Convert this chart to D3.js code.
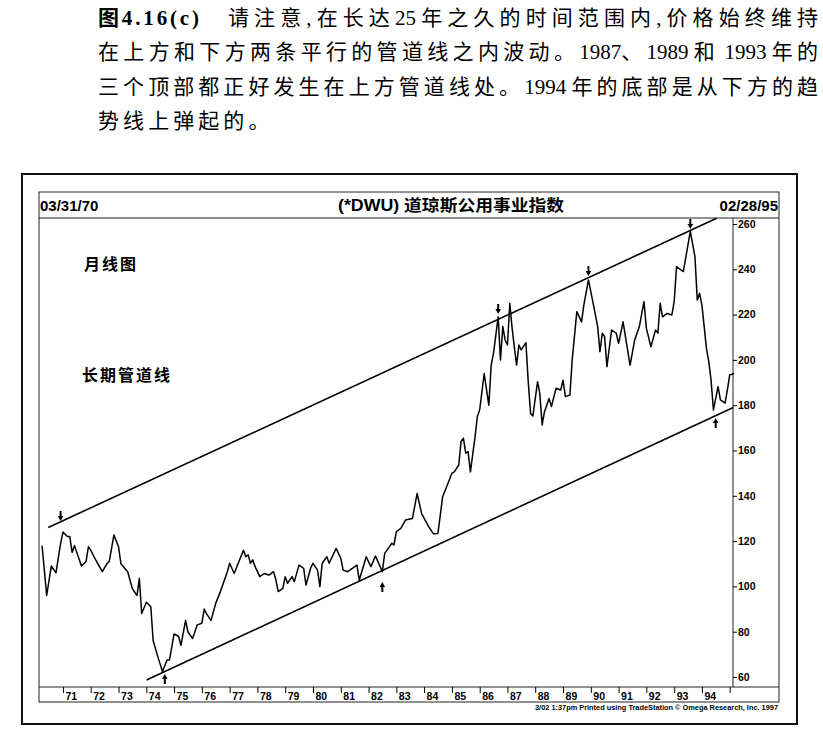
<!DOCTYPE html>
<html lang="zh">
<head>
<meta charset="UTF-8">
<title>道琼斯公用事业指数</title>
<script src="https://d3js.org/d3.v7.min.js"></script>
<style>
  body { margin: 0; background: #fff; }
  svg text { fill: #000; }
  .cap { font-family: "Liberation Serif", "Noto Sans CJK SC", serif; font-size: 21px; }
  .hd { font-family: "Liberation Sans", "Noto Sans CJK SC", sans-serif; font-weight: bold; font-size: 15px; }
  .note { font-family: "Noto Sans CJK SC", sans-serif; font-weight: bold; font-size: 16px; letter-spacing: 2px; }
  .axis text { font-family: "Liberation Sans", sans-serif; font-weight: bold; font-size: 10.5px; }
  .axis line { stroke: #000; }
</style>
</head>
<body>
<svg width="823" height="734"></svg>
<script>
    // monthly closes (month, value)
    const months = [
        "1970-03","1970-05","1970-07","1970-09","1970-11","1970-12","1971-02","1971-03","1971-04","1971-05",
        "1971-08","1971-10","1971-11","1971-12","1972-02","1972-05","1972-07","1972-08","1972-10","1972-12",
        "1973-01","1973-04","1973-06","1973-08","1973-09","1973-10","1973-12","1974-02","1974-03","1974-05",
        "1974-07","1974-09","1974-10","1974-12","1975-02","1975-03","1975-05","1975-06","1975-08","1975-10",
        "1975-12","1976-01","1976-02","1976-04","1976-06","1976-08","1976-11","1976-12","1977-02","1977-04",
        "1977-06","1977-07","1977-08","1977-09","1977-10","1977-11","1978-01","1978-03","1978-05","1978-07",
        "1978-08","1978-09","1978-11","1978-12","1979-01","1979-03","1979-04","1979-06","1979-08","1979-09",
        "1979-11","1979-12","1980-02","1980-03","1980-04","1980-06","1980-07","1980-10","1980-12","1981-01",
        "1981-03","1981-05","1981-07","1981-08","1981-11","1982-01","1982-03","1982-06","1982-07","1982-08",
        "1982-10","1982-11","1982-12","1983-02","1983-04","1983-07","1983-09","1983-11","1984-02","1984-04",
        "1984-06","1984-08","1984-10","1984-12","1985-01","1985-03","1985-04","1985-05","1985-06","1985-07",
        "1985-08","1985-10","1985-11","1985-12","1986-02","1986-04","1986-05","1986-06","1986-08","1986-09",
        "1986-10","1986-11","1986-12","1987-01","1987-02","1987-03","1987-04","1987-05","1987-06","1987-08",
        "1987-09","1987-10","1987-11","1988-01","1988-02","1988-03","1988-04","1988-06","1988-07","1988-09",
        "1988-11","1988-12","1989-01","1989-03","1989-04","1989-06","1989-08","1989-09","1989-11","1990-01",
        "1990-03","1990-04","1990-05","1990-06","1990-07","1990-09","1990-11","1990-12","1991-02","1991-03",
        "1991-05","1991-07","1991-09","1991-11","1991-12","1992-02","1992-04","1992-05","1992-06","1992-07",
        "1992-09","1992-11","1992-12","1993-01","1993-03","1993-04","1993-05","1993-07","1993-09","1993-10",
        "1993-11","1993-12","1994-02","1994-03","1994-04","1994-05","1994-07","1994-08","1994-10","1994-11",
        "1994-12","1995-02"
    ];
    const dwu = [
        118, 96, 109, 106, 119, 124, 122, 122, 115, 118,
        109, 111, 117.5, 116, 112, 106.5, 110, 111, 122.7, 117.5,
        110, 106.5, 99, 96, 103.6, 88, 93, 91, 76, 69,
        62.4, 67.5, 67.5, 79, 78, 74, 85, 80, 77, 83,
        83.7, 90, 88, 85, 92.5, 97.7, 106.5, 110.2, 105.7, 110.9,
        116, 113.1, 113.9, 110.2, 111.7, 108.7, 104.3, 105.7, 105, 106.5,
        102.8, 97.7, 99.1, 104.3, 101.4, 104.3, 102.1, 109.4, 108, 100.6,
        108, 110.2, 107.2, 99.9, 110.2, 113.1, 110.2, 116.8, 112.4, 107.2,
        106.5, 108, 109.4, 102.8, 113.1, 108.7, 113.4, 106.5, 114.6, 116,
        119, 118.3, 124.2, 125.6, 129.3, 130, 141, 132, 126.4, 123.3,
        123.4, 139.6, 144.8, 150, 150.6, 153.6, 164, 165.4, 158.8, 159.5,
        150.6, 166, 175, 178, 194, 180, 197.7, 202.8, 219, 200,
        214.7, 208.8, 206.6, 225, 214.7, 205.8, 197.7, 206.6, 204.4, 207.6,
        190.4, 176.3, 175.2, 190.4, 185.2, 171.3, 177, 183, 179.4, 187.5,
        186.7, 191, 183.8, 184.5, 200, 221.3, 216.8, 224.2, 235.3, 225,
        214.7, 203.6, 211.8, 210.3, 197, 213.2, 211.8, 207.3, 216.8, 210.3,
        197.7, 208.8, 214.7, 225.7, 214, 205.8, 213.2, 211.8, 225, 219,
        220.5, 219.8, 225.7, 241.2, 239.7, 239, 244.9, 256.7, 245.6, 226.4,
        229.4, 224.2, 205.1, 199.2, 191.1, 177.9, 188.2, 182.3, 180.9, 186.7,
        193.3, 194
    ];

    // channel lines (end points)
    const upperDates = ["1970-06-21", "1994-07-13"];
    const upperValues = [126, 262.5];
    const lowerDates = ["1974-01-04", "1995-02-17"];
    const lowerValues = [58.7, 179];

    // arrows marking tops / bottoms (tip value)
    const topMonths = ["1970-11", "1986-08", "1989-11", "1993-07"];
    const topValues = [128.9, 220.3, 237, 257.8];
    const bottomMonths = ["1974-08", "1982-06", "1994-06"];
    const bottomValues = [61.3, 101.9, 174.3];

    const yTicks = [60, 80, 100, 120, 140, 160, 180, 200, 220, 240, 260];

    const captionLines = [
        "在上方和下方两条平行的管道线之内波动。1987、1989 和 1993 年的",
        "三个顶部都正好发生在上方管道线处。1994 年的底部是从下方的趋",
        "势线上弹起的。"
    ];

    const svg = d3.select("svg");
    const parseMonth = d3.timeParse("%Y-%m");
    const parseDay = d3.timeParse("%Y-%m-%d");
    const monthEnd = s => d3.timeMonth.offset(parseMonth(s), 1);

    const x = d3.scaleTime()
        .domain([new Date(1970, 0, 1), new Date(1995, 0, 1)])
        .range([35.2, 729.7]);
    const y = d3.scaleLinear().domain([60, 260]).range([677, 224]);

    // caption above the chart; extra spacing only between the Chinese glyphs
    const latin = /^[0-9.() ]+$/;
    function captionText(str, tx, ty, target, ls) {
        const t = svg.append("text").attr("class", "cap").attr("x", tx).attr("y", ty);
        const parts = str.split(/([0-9.() ]+)/).filter(s => s.length);
        parts.forEach(s => t.append("tspan").attr("class", latin.test(s) ? "lat" : "cjk").text(s));
        if (target) {
            const w = t.node().getComputedTextLength();
            let n = parts.filter(s => !latin.test(s)).join("").length;
            if (!latin.test(parts[parts.length - 1])) n -= 1;
            ls = (target - w) / n;
        }
        t.selectAll("tspan.cjk").style("letter-spacing", ls + "px");
        return ls;
    }
    svg.append("text").attr("class", "cap").attr("x", 98).attr("y", 25)
        .attr("textLength", 101).attr("lengthAdjust", "spacing")
        .style("font-weight", "bold").text("图4.16(c)");
    captionText("请注意,在长达25 年之久的时间范围内,价格始终维持", 228, 25, 590);
    captionText(captionLines[0], 98, 59, 720);
    const ls3 = captionText(captionLines[1], 98, 93.5, 720);
    captionText(captionLines[2], 98, 128, 0, ls3);

    // frames
    svg.append("rect").attr("x", 22).attr("y", 174).attr("width", 775).attr("height", 550)
        .attr("fill", "none").attr("stroke", "#111").attr("stroke-width", 2);
    svg.append("rect").attr("x", 39).attr("y", 192).attr("width", 740).attr("height", 510)
        .attr("fill", "none").attr("stroke", "#222").attr("stroke-width", 1);
    svg.append("line").attr("x1", 39).attr("x2", 779).attr("y1", 218).attr("y2", 218)
        .attr("stroke", "#222");
    svg.append("line").attr("x1", 39).attr("x2", 779).attr("y1", 687).attr("y2", 687)
        .attr("stroke", "#222");
    svg.append("line").attr("x1", 733).attr("x2", 733).attr("y1", 218).attr("y2", 687)
        .attr("stroke", "#222");

    // header
    svg.append("text").attr("class", "hd").attr("x", 40).attr("y", 211).text("03/31/70");
    svg.append("text").attr("class", "hd").attr("x", 778).attr("y", 211)
        .attr("text-anchor", "end").text("02/28/95");
    svg.append("text").attr("class", "hd").attr("x", 451).attr("y", 211)
        .attr("text-anchor", "middle").style("font-size", "16px")
        .attr("textLength", 226).attr("lengthAdjust", "spacingAndGlyphs")
        .text("(*DWU) 道琼斯公用事业指数");

    svg.append("text").attr("class", "note").attr("x", 84).attr("y", 270).text("月线图");
    svg.append("text").attr("class", "note").attr("x", 82).attr("y", 381).text("长期管道线");

    // axes
    const years = d3.timeYear.range(new Date(1971, 0, 1), new Date(1995, 0, 2));
    svg.append("g").attr("class", "axis").attr("transform", "translate(0,687)")
        .call(d3.axisBottom(x).tickValues(years).tickSize(6)
            .tickFormat(d => d.getFullYear() < 1995 ? d3.timeFormat("%y")(d) : ""))
        .call(g => g.select(".domain").remove())
        .call(g => g.selectAll("text").attr("x", 2).attr("y", 6)
            .attr("text-anchor", "start"));

    svg.append("g").attr("class", "axis").attr("transform", "translate(733,0)")
        .call(d3.axisRight(y).tickValues(yTicks).tickSize(4).tickPadding(1))
        .call(g => g.select(".domain").remove());

    // channel lines
    const chan = d3.line().x(d => x(parseDay(d[0]))).y(d => y(d[1]));
    [[upperDates, upperValues], [lowerDates, lowerValues]].forEach(([ds, vs]) => {
        svg.append("path").datum(d3.zip(ds, vs)).attr("d", chan)
            .attr("fill", "none").attr("stroke", "#000").attr("stroke-width", 1.6);
    });

    // price line
    const line = d3.line().x(d => x(monthEnd(d[0]))).y(d => y(d[1]));
    svg.append("path").datum(d3.zip(months, dwu)).attr("d", line)
        .attr("fill", "none").attr("stroke", "#000").attr("stroke-width", 1.5)
        .attr("stroke-linejoin", "round");

    // arrows: dir -1 = pointing down (sits above), 1 = pointing up (sits below)
    function arrow(m, v, dir) {
        const ax = x(monthEnd(m)), ay = y(v);
        const p = d3.path();
        p.moveTo(ax, ay);
        p.lineTo(ax - 2.8, ay + dir * 5);
        p.lineTo(ax - 1, ay + dir * 5);
        p.lineTo(ax - 1, ay + dir * 10);
        p.lineTo(ax + 1, ay + dir * 10);
        p.lineTo(ax + 1, ay + dir * 5);
        p.lineTo(ax + 2.8, ay + dir * 5);
        p.closePath();
        svg.append("path").attr("d", p.toString()).attr("fill", "#000");
    }
    topMonths.forEach((m, i) => arrow(m, topValues[i], -1));
    bottomMonths.forEach((m, i) => arrow(m, bottomValues[i], 1));

    svg.append("text").attr("x", 778).attr("y", 710).attr("text-anchor", "end")
        .attr("textLength", 243).attr("lengthAdjust", "spacingAndGlyphs")
        .style("font-family", "Liberation Sans, sans-serif").style("font-weight", "bold")
        .style("font-size", "7.5px")
        .text("3/02 1:37pm Printed using TradeStation © Omega Research, Inc. 1997");
</script>
</body>
</html>
